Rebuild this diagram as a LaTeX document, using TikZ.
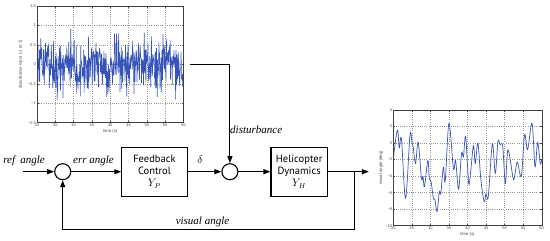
\documentclass[tikz,border=0pt]{standalone}
\usepackage{fontspec}
\setmainfont{Liberation Serif}
\setsansfont{Liberation Sans}
\newfontfamily\blockfont{PT Sans}
\usepackage{xcolor}
\usetikzlibrary{positioning,arrows.meta}
\definecolor{sigblue}{RGB}{55,85,185}
\definecolor{gridgray}{RGB}{150,150,150}
\tikzset{
block/.style={
draw,
line width=1.1pt,
minimum height=49pt,
align=center,
inner sep=2pt,
font=\blockfont\fontsize{10.5}{12.3}\selectfont
},
sum/.style={
draw,
circle,
line width=1.1pt,
minimum size=16pt,
inner sep=0pt
},
siglabel/.style={
font=\fontsize{11}{13}\selectfont\itshape,
inner sep=1pt
},
arrow/.style={
-{Triangle[length=7pt,width=5pt]},
line width=1.1pt
},
gridline/.style={
gridgray,
line width=0.35pt,
dash pattern=on 0.6pt off 1.6pt
},
axisline/.style={
black!75,
line width=0.4pt
},
signal/.style={
sigblue,
line width=0.55pt,
line join=round
},
ticklbl/.style={
font=\sffamily\fontsize{4}{4.5}\selectfont,
text=black!70,
inner sep=1pt
},
axislbl/.style={
font=\sffamily\fontsize{4.3}{5}\selectfont,
text=black!70,
inner sep=1pt
}
}

\begin{document}
\begin{tikzpicture}[x=1pt,y=1pt]
\useasboundingbox (0,0) rectangle (550,241);

% disturbance input plot
\begin{scope}[shift={(-36.25pt,176.65pt)},x=3.6625pt,y=38.9pt]
\foreach \t in {25,30,...,55}
\draw[gridline](\t,-1.5)--(\t,1.5);
\foreach \v in {-1,-0.5,0,0.5,1}
\draw[gridline](20,\v)--(60,\v);
\pgfmathsetseed{11}
\begin{scope}
\clip (20,-1.5) rectangle (60,1.5);
\draw[signal,line width=0.6pt] plot[domain=20:60,samples=430] (\x,{0.34*(rand+rand+rand)+0.12*sin(\x*53)});
\end{scope}
\foreach \t in {20,25,...,60}{
\draw[axisline](\t,-1.5)--++(0,1.8pt);
\draw[axisline](\t,1.5)--++(0,-1.8pt);
\node[ticklbl,below](dx\t) at (\t,-1.5){\t};
}
\foreach \v/\s [count=\i] in {-1.5/−1.5,-1/−1,-0.5/−0.5,0/0,0.5/0.5,1/1,1.5/1.5}{
\draw[axisline](20,\v)--++(1.8pt,0);
\draw[axisline](60,\v)--++(-1.8pt,0);
\node[ticklbl,left](dy\i) at (20,\v){\s};
}
\draw[axisline](20,-1.5) rectangle (60,1.5);
\node[axislbl,below=0.5pt of dx40](dxlbl){time (s)};
\node[axislbl,rotate=90](dylbl) at (15.55,0){disturbance input (-1 to 1)};
\end{scope}

% visual angle plot
\begin{scope}[shift={(319.1pt,97.94pt)},x=3.71pt,y=8.264pt]
\foreach \t in {25,30,...,55}
\draw[gridline](\t,-10)--(\t,4);
\foreach \v in {-8,-6,...,2}
\draw[gridline](20,\v)--(60,\v);
\draw[signal,line width=0.7pt] plot[smooth,tension=0.55] coordinates {
(20,-1.9) (21.1,1.6) (21.6,-0.6) (22.2,0.5) (23.3,-6.7) (24.5,1.0) (25,0.2)
(25.4,-0.6) (26,-2.5) (26.7,0.1) (27.6,-4.3) (28,-4.0) (28.4,-5.3) (29.3,-2.1)
(29.7,-4.3) (30.2,-4.7) (30.8,-6.7) (31.2,-6.8) (31.8,-8.3) (32.4,-5.9) (32.8,-6.1)
(33.5,-2.9) (34,-4.6) (35,2.4) (36.2,-3.1) (36.8,-2.1) (37.6,-5.6) (38.4,-1.2)
(38.9,-1.7) (39.5,0.8) (40.3,-4.8) (40.8,-3.7) (41.6,-0.3) (42.1,-2.5) (42.8,0)
(43.6,-4.4) (44.5,-7.1) (45,-6.1) (45.6,-6.5) (46.7,-0.1) (47.5,-3.7) (48.2,0.2)
(48.8,-0.2) (49.5,-0.4) (50.2,-4.9) (50.9,-0.8) (52.2,-4.0) (52.6,-4.3) (53.4,-2.3)
(54.5,-4.0) (55.4,1.0) (56.2,-0.8) (57.4,2.4) (58.2,-2.9) (58.9,0.1) (59.6,-2.5) (60,-2.0)};
\foreach \t in {20,25,...,60}{
\draw[axisline](\t,-10)--++(0,1.8pt);
\draw[axisline](\t,4)--++(0,-1.8pt);
\node[ticklbl,below](vx\t) at (\t,-10){\t};
}
\foreach \v/\s [count=\i] in {-10/−10,-8/−8,-6/−6,-4/−4,-2/−2,0/0,2/2,4/4}{
\draw[axisline](20,\v)--++(1.8pt,0);
\draw[axisline](60,\v)--++(-1.8pt,0);
\node[ticklbl,left](vy\i) at (20,\v){\s};
}
\draw[axisline](20,-10) rectangle (60,4);
\node[axislbl,below=0.5pt of vx40](vxlbl){time (s)};
\node[axislbl,rotate=90](vylbl) at (16.68,-3){visual angle (deg)};
\end{scope}

% block diagram
\node[sum](sum1) at (62.7,69.3){};
\node[block,minimum width=65.3pt,right=50pt of sum1](ctrl){Feedback\\Control\\$Y_P$};
\node[sum,right=33.7pt of ctrl](sum2){};
\node[block,minimum width=56.3pt,right=32pt of sum2](heli){Helicopter\\Dynamics\\$Y_H$};
\coordinate (ref) at (22.7,69.3);
\coordinate[right=26.7pt of heli](br);
\coordinate[right=41pt of heli](out);
\coordinate (dist) at (190,176.7);
\coordinate (fb) at (0,11.7);

\foreach \x/\y in {ref/sum1,sum1/ctrl,ctrl/sum2,sum2/heli,heli/out}
\draw[arrow](\x)--(\y);
\draw[arrow](dist)-|(sum2.north);
\draw[arrow](br)--(br|-fb)-|(sum1.south);

\node[siglabel](reflbl) at (24,80.3){ref\hspace{2.5pt} angle};
\node[siglabel](errlbl) at (93.5,80.3){err angle};
\node[siglabel](dlbl) at (200,81.7){$\delta$};
\node[siglabel,anchor=west](distlbl) at (229,111){disturbance};
\node[siglabel](vislbl) at (202.5,19.3){visual angle};
\end{tikzpicture}
\end{document}
